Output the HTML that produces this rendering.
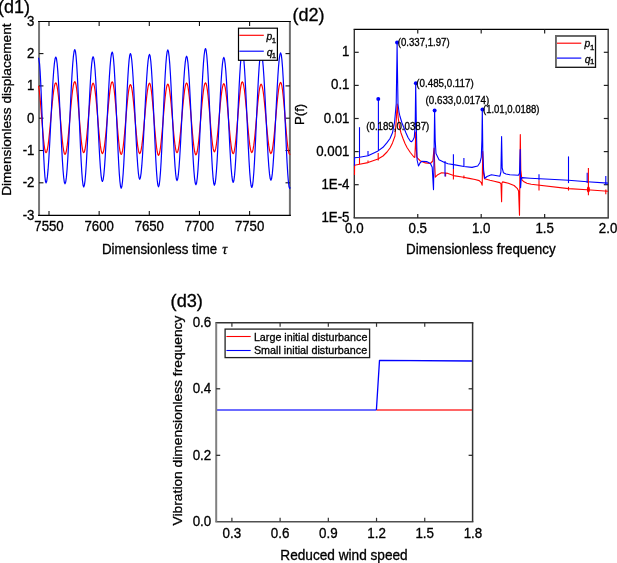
<!DOCTYPE html>
<html><head><meta charset="utf-8"><style>
html,body{margin:0;padding:0;background:#fff;}
body{width:617px;height:563px;overflow:hidden;}
svg{display:block;will-change:transform;}
text{font-family:"Liberation Sans", sans-serif;stroke:#000;stroke-width:0.3px;}
</style></head><body>
<svg width="617" height="563" viewBox="0 0 617 563">
<rect width="617" height="563" fill="#fff"/>
<g fill="none">
<line x1="39.05" y1="21.5" x2="39.05" y2="215.35" stroke="#777" stroke-width="2"/>
<line x1="289.9" y1="21.5" x2="289.9" y2="215.35" stroke="#707070" stroke-width="2"/>
<line x1="38.05" y1="21.5" x2="290.9" y2="21.5" stroke="#000" stroke-width="1.2"/>
<line x1="38.05" y1="215.35" x2="290.9" y2="215.35" stroke="#000" stroke-width="1.2"/>
<line x1="49" y1="215.35" x2="49" y2="210.95" stroke="#111" stroke-width="1.1"/>
<line x1="49" y1="21.5" x2="49" y2="25.9" stroke="#111" stroke-width="1.1"/>
<line x1="99.15" y1="215.35" x2="99.15" y2="210.95" stroke="#111" stroke-width="1.1"/>
<line x1="99.15" y1="21.5" x2="99.15" y2="25.9" stroke="#111" stroke-width="1.1"/>
<line x1="149.3" y1="215.35" x2="149.3" y2="210.95" stroke="#111" stroke-width="1.1"/>
<line x1="149.3" y1="21.5" x2="149.3" y2="25.9" stroke="#111" stroke-width="1.1"/>
<line x1="199.45" y1="215.35" x2="199.45" y2="210.95" stroke="#111" stroke-width="1.1"/>
<line x1="199.45" y1="21.5" x2="199.45" y2="25.9" stroke="#111" stroke-width="1.1"/>
<line x1="249.6" y1="215.35" x2="249.6" y2="210.95" stroke="#111" stroke-width="1.1"/>
<line x1="249.6" y1="21.5" x2="249.6" y2="25.9" stroke="#111" stroke-width="1.1"/>
<line x1="39.05" y1="182.8" x2="43.45" y2="182.8" stroke="#111" stroke-width="1.1"/>
<line x1="289.9" y1="182.8" x2="285.5" y2="182.8" stroke="#111" stroke-width="1.1"/>
<line x1="39.05" y1="150.5" x2="43.45" y2="150.5" stroke="#111" stroke-width="1.1"/>
<line x1="289.9" y1="150.5" x2="285.5" y2="150.5" stroke="#111" stroke-width="1.1"/>
<line x1="39.05" y1="118.2" x2="43.45" y2="118.2" stroke="#111" stroke-width="1.1"/>
<line x1="289.9" y1="118.2" x2="285.5" y2="118.2" stroke="#111" stroke-width="1.1"/>
<line x1="39.05" y1="85.9" x2="43.45" y2="85.9" stroke="#111" stroke-width="1.1"/>
<line x1="289.9" y1="85.9" x2="285.5" y2="85.9" stroke="#111" stroke-width="1.1"/>
<line x1="39.05" y1="53.6" x2="43.45" y2="53.6" stroke="#111" stroke-width="1.1"/>
<line x1="289.9" y1="53.6" x2="285.5" y2="53.6" stroke="#111" stroke-width="1.1"/>
</g>
<g fill="none" stroke-linejoin="round">
<polyline points="38.55,85.74 39.24,90.25 39.86,95.8 40.47,102.44 41.09,109.85 41.7,117.65 42.31,125.45 42.93,132.86 43.54,139.5 44.16,145.05 44.77,149.23 45.39,151.82 46,152.7 46.7,151.82 47.4,149.24 48.1,145.08 48.8,139.54 49.5,132.91 50.2,125.53 50.9,117.75 51.6,109.97 52.3,102.59 53,95.96 53.7,90.42 54.4,86.26 55.1,83.68 55.8,82.8 56.46,83.7 57.11,86.35 57.77,90.61 58.43,96.28 59.09,103.07 59.74,110.63 60.4,118.6 61.06,126.57 61.71,134.13 62.37,140.92 63.03,146.59 63.69,150.85 64.34,153.5 65,154.4 65.7,153.49 66.4,150.8 67.1,146.46 67.8,140.7 68.5,133.79 69.2,126.1 69.9,118 70.6,109.9 71.3,102.21 72,95.3 72.7,89.54 73.4,85.2 74.1,82.51 74.8,81.6 75.44,82.49 76.07,85.12 76.71,89.36 77.34,94.98 77.98,101.73 78.61,109.24 79.25,117.15 79.89,125.06 80.52,132.57 81.16,139.32 81.79,144.94 82.43,149.18 83.06,151.81 83.7,152.7 84.37,151.83 85.04,149.26 85.71,145.12 86.39,139.62 87.06,133.03 87.73,125.68 88.4,117.95 89.07,110.22 89.74,102.87 90.41,96.28 91.09,90.78 91.76,86.64 92.43,84.07 93.1,83.2 93.76,84.08 94.43,86.69 95.09,90.88 95.76,96.45 96.42,103.13 97.09,110.57 97.75,118.4 98.41,126.23 99.08,133.67 99.74,140.35 100.41,145.92 101.07,150.11 101.74,152.72 102.4,153.6 103.1,152.7 103.8,150.04 104.5,145.77 105.2,140.08 105.9,133.28 106.6,125.69 107.3,117.7 108,109.71 108.7,102.12 109.4,95.32 110.1,89.63 110.8,85.36 111.5,82.7 112.2,81.8 112.84,82.71 113.49,85.39 114.13,89.72 114.77,95.47 115.41,102.35 116.06,110.02 116.7,118.1 117.34,126.18 117.99,133.85 118.63,140.73 119.27,146.48 119.91,150.81 120.56,153.49 121.2,154.4 121.86,153.52 122.51,150.94 123.17,146.79 123.83,141.26 124.49,134.64 125.14,127.27 125.8,119.5 126.46,111.73 127.11,104.36 127.77,97.74 128.43,92.21 129.09,88.06 129.74,85.48 130.4,84.6 131.06,85.46 131.73,88.02 132.39,92.13 133.06,97.59 133.72,104.13 134.39,111.42 135.05,119.1 135.71,126.78 136.38,134.07 137.04,140.61 137.71,146.07 138.37,150.18 139.04,152.74 139.7,153.6 140.4,152.72 141.1,150.11 141.8,145.92 142.5,140.35 143.2,133.67 143.9,126.23 144.6,118.4 145.3,110.57 146,103.13 146.7,96.45 147.4,90.88 148.1,86.69 148.8,84.08 149.5,83.2 150.14,84.1 150.79,86.77 151.43,91.06 152.07,96.77 152.71,103.61 153.36,111.23 154,119.25 154.64,127.27 155.29,134.89 155.93,141.73 156.57,147.44 157.21,151.73 157.86,154.4 158.5,155.3 159.16,154.41 159.83,151.77 160.49,147.53 161.16,141.9 161.82,135.15 162.49,127.62 163.15,119.7 163.81,111.78 164.48,104.25 165.14,97.5 165.81,91.87 166.47,87.63 167.14,84.99 167.8,84.1 168.46,84.96 169.11,87.5 169.77,91.58 170.43,97.01 171.09,103.52 171.74,110.77 172.4,118.4 173.06,126.03 173.71,133.28 174.37,139.79 175.03,145.22 175.69,149.3 176.34,151.84 177,152.7 177.69,151.83 178.37,149.25 179.06,145.1 179.74,139.58 180.43,132.97 181.11,125.6 181.8,117.85 182.49,110.1 183.17,102.73 183.86,96.12 184.54,90.6 185.23,86.45 185.91,83.87 186.6,83 187.26,83.9 187.93,86.56 188.59,90.83 189.26,96.52 189.92,103.32 190.59,110.91 191.25,118.9 191.91,126.89 192.58,134.48 193.24,141.28 193.91,146.97 194.57,151.24 195.24,153.9 195.9,154.8 196.59,153.9 197.27,151.23 197.96,146.95 198.64,141.25 199.33,134.42 200.01,126.81 200.7,118.8 201.39,110.79 202.07,103.18 202.76,96.35 203.44,90.65 204.13,86.37 204.81,83.7 205.5,82.8 206.14,83.66 206.77,86.22 207.41,90.33 208.04,95.79 208.68,102.33 209.31,109.62 209.95,117.3 210.59,124.98 211.22,132.27 211.86,138.81 212.49,144.27 213.13,148.38 213.76,150.94 214.4,151.8 215.07,150.95 215.74,148.43 216.41,144.37 217.09,138.98 217.76,132.52 218.43,125.33 219.1,117.75 219.77,110.17 220.44,102.98 221.11,96.52 221.79,91.13 222.46,87.07 223.13,84.55 223.8,83.7 224.47,84.58 225.14,87.17 225.81,91.34 226.49,96.88 227.16,103.51 227.83,110.91 228.5,118.7 229.17,126.49 229.84,133.89 230.51,140.52 231.19,146.06 231.86,150.23 232.53,152.82 233.2,153.7 233.85,152.8 234.5,150.14 235.15,145.86 235.8,140.16 236.45,133.35 237.1,125.75 237.75,117.75 238.4,109.75 239.05,102.15 239.7,95.34 240.35,89.64 241,85.36 241.65,82.7 242.3,81.8 242.98,82.69 243.66,85.31 244.34,89.52 245.01,95.13 245.69,101.84 246.37,109.32 247.05,117.2 247.73,125.08 248.41,132.56 249.09,139.27 249.76,144.88 250.44,149.09 251.12,151.71 251.8,152.6 252.46,151.74 253.13,149.21 253.79,145.14 254.46,139.72 255.12,133.24 255.79,126.01 256.45,118.4 257.11,110.79 257.78,103.56 258.44,97.08 259.11,91.66 259.77,87.59 260.44,85.06 261.1,84.2 261.8,85.07 262.5,87.63 263.2,91.76 263.9,97.25 264.6,103.82 265.3,111.14 266,118.85 266.7,126.56 267.4,133.88 268.1,140.45 268.8,145.94 269.5,150.07 270.2,152.63 270.9,153.5 271.59,152.61 272.29,149.98 272.98,145.74 273.67,140.12 274.36,133.37 275.06,125.86 275.75,117.95 276.44,110.04 277.14,102.53 277.83,95.78 278.52,90.16 279.21,85.92 279.91,83.29 280.6,82.4 281.25,83.3 281.9,85.97 282.55,90.25 283.2,95.95 283.85,102.78 284.5,110.39 285.15,118.4 285.8,126.41 286.45,134.02 287.1,140.85 287.75,146.55 288.4,150.83 289.05,153.5 289.7,154.4 290.2,153.74" stroke="#ff0000" stroke-width="1.2"/>
<polyline points="38.55,57.75 39.57,63.8 40.11,71.27 40.64,81.19 41.18,93.07 41.71,106.31 42.25,120.25 42.79,134.19 43.32,147.43 43.86,159.31 44.39,169.23 44.93,176.7 45.46,181.33 46,182.9 46.7,181.32 47.4,176.67 48.1,169.17 48.8,159.2 49.5,147.26 50.2,133.96 50.9,119.95 51.6,105.94 52.3,92.64 53,80.7 53.7,70.73 54.4,63.23 55.1,58.58 55.8,57 56.46,58.59 57.11,63.28 57.77,70.83 58.43,80.87 59.09,92.89 59.74,106.29 60.4,120.4 61.06,134.51 61.71,147.91 62.37,159.93 63.03,169.97 63.69,177.52 64.34,182.21 65,183.8 65.7,182.12 66.4,177.16 67.1,169.16 67.8,158.54 68.5,145.81 69.2,131.63 69.9,116.7 70.6,101.77 71.3,87.59 72,74.86 72.7,64.24 73.4,56.24 74.1,51.28 74.8,49.6 75.44,51.32 76.07,56.4 76.71,64.59 77.34,75.47 77.98,88.49 78.61,103.01 79.25,118.3 79.89,133.59 80.52,148.11 81.16,161.13 81.79,172.01 82.43,180.2 83.06,185.28 83.7,187 84.37,185.37 85.04,180.55 85.71,172.79 86.39,162.47 87.06,150.12 87.73,136.35 88.4,121.85 89.07,107.35 89.74,93.58 90.41,81.23 91.09,70.91 91.76,63.15 92.43,58.33 93.1,56.7 93.76,58.26 94.43,62.88 95.09,70.31 95.76,80.19 96.42,92.03 97.09,105.21 97.75,119.1 98.41,132.99 99.08,146.17 99.74,158.01 100.41,167.89 101.07,175.32 101.74,179.94 102.4,181.5 103.1,179.88 103.8,175.09 104.5,167.37 105.2,157.12 105.9,144.84 106.6,131.16 107.3,116.75 108,102.34 108.7,88.66 109.4,76.38 110.1,66.13 110.8,58.41 111.5,53.62 112.2,52 112.84,53.71 113.49,58.74 114.13,66.86 114.77,77.64 115.41,90.55 116.06,104.95 116.7,120.1 117.34,135.25 117.99,149.65 118.63,162.56 119.27,173.34 119.91,181.46 120.56,186.49 121.2,188.2 121.86,186.51 122.51,181.53 123.17,173.51 123.83,162.84 124.49,150.07 125.14,135.84 125.8,120.85 126.46,105.86 127.11,91.63 127.77,78.86 128.43,68.19 129.09,60.17 129.74,55.19 130.4,53.5 131.06,55.08 131.73,59.73 132.39,67.22 133.06,77.18 133.72,89.11 134.39,102.4 135.05,116.4 135.71,130.4 136.38,143.69 137.04,155.62 137.71,165.58 138.37,173.07 139.04,177.72 139.7,179.3 140.4,177.73 141.1,173.12 141.8,165.68 142.5,155.79 143.2,143.95 143.9,130.75 144.6,116.85 145.3,102.95 146,89.75 146.7,77.91 147.4,68.02 148.1,60.58 148.8,55.97 149.5,54.4 150.14,56.06 150.79,60.96 151.43,68.84 152.07,79.32 152.71,91.88 153.36,105.87 154,120.6 154.64,135.33 155.29,149.32 155.93,161.88 156.57,172.36 157.21,180.24 157.86,185.14 158.5,186.8 159.16,185.08 159.83,180.02 160.49,171.87 161.16,161.03 161.82,148.05 162.49,133.58 163.15,118.35 163.81,103.12 164.48,88.65 165.14,75.67 165.81,64.83 166.47,56.68 167.14,51.62 167.8,49.9 168.46,51.54 169.11,56.37 169.77,64.16 170.43,74.5 171.09,86.9 171.74,100.71 172.4,115.25 173.06,129.79 173.71,143.6 174.37,156 175.03,166.34 175.69,174.13 176.34,178.96 177,180.6 177.69,179.04 178.37,174.44 179.06,167.03 179.74,157.18 180.43,145.39 181.11,132.24 181.8,118.4 182.49,104.56 183.17,91.41 183.86,79.62 184.54,69.77 185.23,62.36 185.91,57.76 186.6,56.2 187.26,57.81 187.93,62.56 188.59,70.22 189.26,80.39 189.92,92.57 190.59,106.15 191.25,120.45 191.91,134.75 192.58,148.33 193.24,160.51 193.91,170.68 194.57,178.34 195.24,183.09 195.9,184.7 196.59,182.99 197.27,177.96 197.96,169.84 198.64,159.06 199.33,146.15 200.01,131.75 200.7,116.6 201.39,101.45 202.07,87.05 202.76,74.14 203.44,63.36 204.13,55.24 204.81,50.21 205.5,48.5 206.14,50.21 206.77,55.27 207.41,63.41 208.04,74.23 208.68,87.19 209.31,101.64 209.95,116.85 210.59,132.06 211.22,146.51 211.86,159.47 212.49,170.29 213.13,178.43 213.76,183.49 214.4,185.2 215.07,183.6 215.74,178.87 216.41,171.26 217.09,161.14 217.76,149.03 218.43,135.52 219.1,121.3 219.77,107.08 220.44,93.57 221.11,81.46 221.79,71.34 222.46,63.73 223.13,59 223.8,57.4 224.47,58.97 225.14,63.59 225.81,71.04 226.49,80.93 227.16,92.78 227.83,105.99 228.5,119.9 229.17,133.81 229.84,147.02 230.51,158.87 231.19,168.76 231.86,176.21 232.53,180.83 233.2,182.4 233.85,180.75 234.5,175.9 235.15,168.08 235.8,157.68 236.45,145.23 237.1,131.36 237.75,116.75 238.4,102.14 239.05,88.27 239.7,75.82 240.35,65.42 241,57.6 241.65,52.75 242.3,51.1 242.98,52.81 243.66,57.85 244.34,65.98 245.01,76.78 245.69,89.71 246.37,104.12 247.05,119.3 247.73,134.48 248.41,148.89 249.09,161.82 249.76,172.62 250.44,180.75 251.12,185.79 251.8,187.5 252.46,185.81 253.13,180.82 253.79,172.78 254.46,162.1 255.12,149.32 255.79,135.06 256.45,120.05 257.11,105.04 257.78,90.78 258.44,78 259.11,67.32 259.77,59.28 260.44,54.29 261.1,52.6 261.8,54.2 262.5,58.92 263.2,66.52 263.9,76.62 264.6,88.72 265.3,102.2 266,116.4 266.7,130.6 267.4,144.08 268.1,156.18 268.8,166.28 269.5,173.88 270.2,178.6 270.9,180.2 271.59,178.6 272.29,173.9 272.98,166.31 273.67,156.24 274.36,144.17 275.06,130.71 275.75,116.55 276.44,102.39 277.14,88.93 277.83,76.86 278.52,66.79 279.21,59.2 279.91,54.5 280.6,52.9 281.25,54.6 281.9,59.61 282.55,67.69 283.2,78.43 283.85,91.28 284.5,105.61 285.15,120.7 285.8,135.79 286.45,150.12 287.1,162.97 287.75,173.71 288.4,181.79 289.05,186.8 289.7,188.5 290.2,187.27" stroke="#0000ff" stroke-width="1.2"/>
</g>
<rect x="238.5" y="28.2" width="38.9" height="32.1" fill="#fff" stroke="#000" stroke-width="1.2"/>
<line x1="239.3" y1="35.3" x2="263.8" y2="35.3" stroke="#ff0000" stroke-width="1.15"/>
<line x1="239.3" y1="51.2" x2="263.8" y2="51.2" stroke="#0000ff" stroke-width="1.15"/>
<g font-family='"Liberation Sans", sans-serif' fill="#000">
<text x="266.6" y="40" font-size="10.3" font-style="italic">p</text><text x="271.8" y="42.8" font-size="7.8">1</text>
<text x="266.8" y="55.5" font-size="10.3" font-style="italic">q</text><text x="271.8" y="58" font-size="7.8">1</text>
<text transform="translate(49 230.6) scale(1 1.08)" font-size="13.2" text-anchor="middle">7550</text>
<text transform="translate(99.15 230.6) scale(1 1.08)" font-size="13.2" text-anchor="middle">7600</text>
<text transform="translate(149.3 230.6) scale(1 1.08)" font-size="13.2" text-anchor="middle">7650</text>
<text transform="translate(199.45 230.6) scale(1 1.08)" font-size="13.2" text-anchor="middle">7700</text>
<text transform="translate(249.6 230.6) scale(1 1.08)" font-size="13.2" text-anchor="middle">7750</text>
<text transform="translate(34.4 219.5) scale(1 1.08)" font-size="13.2" text-anchor="end">-3</text>
<text transform="translate(34.4 187.2) scale(1 1.08)" font-size="13.2" text-anchor="end">-2</text>
<text transform="translate(34.4 154.9) scale(1 1.08)" font-size="13.2" text-anchor="end">-1</text>
<text transform="translate(34.4 122.6) scale(1 1.08)" font-size="13.2" text-anchor="end">0</text>
<text transform="translate(34.4 90.3) scale(1 1.08)" font-size="13.2" text-anchor="end">1</text>
<text transform="translate(34.4 58) scale(1 1.08)" font-size="13.2" text-anchor="end">2</text>
<text transform="translate(34.4 25.7) scale(1 1.08)" font-size="13.2" text-anchor="end">3</text>
<text transform="translate(102 253.9) scale(1 1.1)" font-size="13.3">Dimensionless time</text>
<text x="222.3" y="253.8" font-size="14" style="font-family:'Liberation Serif', serif" font-style="italic">&#964;</text>
<text transform="translate(10.7,195.8) rotate(-90)" font-size="13.6" textLength="172.3" lengthAdjust="spacingAndGlyphs" x="0" y="0">Dimensionless displacement</text>
<text x="-1.9" y="13.1" font-size="17.5" textLength="32" lengthAdjust="spacingAndGlyphs">(d1)</text>
</g>
<g fill="none">
<line x1="353.6" y1="29.4" x2="608.9" y2="29.4" stroke="#000" stroke-width="1.4"/>
<line x1="353.6" y1="217.9" x2="608.9" y2="217.9" stroke="#555" stroke-width="1.6"/>
<line x1="354.3" y1="29.4" x2="354.3" y2="217.9" stroke="#333" stroke-width="1.4"/>
<line x1="608.2" y1="29.4" x2="608.2" y2="217.9" stroke="#444" stroke-width="1.5"/>
<line x1="417.75" y1="217.9" x2="417.75" y2="213.9" stroke="#222" stroke-width="1.2"/>
<line x1="417.75" y1="29.4" x2="417.75" y2="33.4" stroke="#222" stroke-width="1.2"/>
<line x1="481.2" y1="217.9" x2="481.2" y2="213.9" stroke="#222" stroke-width="1.2"/>
<line x1="481.2" y1="29.4" x2="481.2" y2="33.4" stroke="#222" stroke-width="1.2"/>
<line x1="544.65" y1="217.9" x2="544.65" y2="213.9" stroke="#222" stroke-width="1.2"/>
<line x1="544.65" y1="29.4" x2="544.65" y2="33.4" stroke="#222" stroke-width="1.2"/>
<line x1="354.3" y1="184.7" x2="358.7" y2="184.7" stroke="#222" stroke-width="1.2"/>
<line x1="608.2" y1="184.7" x2="603.8" y2="184.7" stroke="#222" stroke-width="1.2"/>
<line x1="354.3" y1="151.6" x2="358.7" y2="151.6" stroke="#222" stroke-width="1.2"/>
<line x1="608.2" y1="151.6" x2="603.8" y2="151.6" stroke="#222" stroke-width="1.2"/>
<line x1="354.3" y1="118.5" x2="358.7" y2="118.5" stroke="#222" stroke-width="1.2"/>
<line x1="608.2" y1="118.5" x2="603.8" y2="118.5" stroke="#222" stroke-width="1.2"/>
<line x1="354.3" y1="85.4" x2="358.7" y2="85.4" stroke="#222" stroke-width="1.2"/>
<line x1="608.2" y1="85.4" x2="603.8" y2="85.4" stroke="#222" stroke-width="1.2"/>
<line x1="354.3" y1="52.3" x2="358.7" y2="52.3" stroke="#222" stroke-width="1.2"/>
<line x1="608.2" y1="52.3" x2="603.8" y2="52.3" stroke="#222" stroke-width="1.2"/>
</g>
<g fill="none" stroke-linejoin="round">
<polyline points="354.5,174.9 354.6,165.3 359.5,164.2 368,162.6 378,158.9 383,156 387,152 390,148 392.5,142.9 395,136 396.3,120 397.2,104 398.2,118 399.5,127 401,133 403,138.5 405,143.5 407,147.5 410.3,152.5 413.9,157 414.8,157.4 415.4,145 415.7,132 416.1,145 416.8,157 417.3,157.9 420.4,161 425.4,162.9 430.4,163.5 432.8,161 434.1,148 434.7,165 435.3,177.2 437.8,174.7 441.5,172.8 448,173.4 455,175.9 462,177 469.2,178.4 475,179.5 479.2,180.6 481.3,182.7 482.2,185.2 482.7,151.4 483.3,172 484.5,178.8 490,180.3 494.2,181.2 499.9,182.6 501,184 501.6,201.8 501.9,183 502.7,181.9 508.4,183.3 514.1,185.5 517.2,188.3 518.6,191.1 519.5,215.3 520.3,134.6 520.8,170 521.9,179.8 524,181.8 526.9,183.3 531.2,184.2 568.5,188.6 587.2,189.8 608,191.3" stroke="#ff0000" stroke-width="1.1"/>
<line x1="359.5" y1="157.8" x2="359.5" y2="164.2" stroke="#ff0000" stroke-width="1.1"/>
<line x1="368" y1="160.5" x2="368" y2="162.6" stroke="#ff0000" stroke-width="1.1"/>
<line x1="378.2" y1="153" x2="378.2" y2="160.5" stroke="#ff0000" stroke-width="1.1"/>
<line x1="445.6" y1="172.8" x2="445.6" y2="176.6" stroke="#ff0000" stroke-width="1.1"/>
<line x1="453.4" y1="169.1" x2="453.4" y2="179.4" stroke="#ff0000" stroke-width="1.1"/>
<line x1="463.9" y1="175.5" x2="463.9" y2="178.5" stroke="#ff0000" stroke-width="1.1"/>
<line x1="539" y1="180.3" x2="539" y2="190.6" stroke="#ff0000" stroke-width="1.1"/>
<line x1="568.5" y1="186.8" x2="568.5" y2="190.6" stroke="#ff0000" stroke-width="1.1"/>
<line x1="605.8" y1="189.6" x2="605.8" y2="194.3" stroke="#ff0000" stroke-width="1.1"/>
<polyline points="354.5,165.8 354.6,157.8 359.5,157.3 368,155.7 378.1,150.9 383,147.3 387.2,142.4 390,138.5 392.5,132.8 394.6,122.1 396.2,104 396.9,60 397.1,42.8 397.3,60 398,104 399,112 400,116.5 402,123 404,128 406,133 408,137.5 410.4,141.3 411.5,141.8 413,140 414.3,137.2 415.2,125 415.7,83.3 416.4,130 417.1,160 418.5,166 420,163 421.7,161.3 426.6,161.6 430.4,163.5 432.2,167.2 433.5,189.6 434,160 434.6,110.6 435.2,140 436,153.6 439,159.8 444,162.3 448,163.8 455,164.9 463.9,166.5 472,167.4 477.7,166 479.9,162.8 481.3,157.1 481.9,140 482.3,109.7 482.8,150 483.6,170 484.8,178.4 487,176.5 491.4,174.8 499.9,176.2 500.9,172 501.6,136.5 502.2,168 503.4,172.7 506,174 509.8,174.8 518.4,175.2 519.5,173.4 520.2,149.5 520.6,187.8 521.2,179 521.9,177.6 530,178.2 550,179.3 568.5,180.3 587.2,181.8 608,183.1" stroke="#0000ff" stroke-width="1.1"/>
<line x1="359.5" y1="127.2" x2="359.5" y2="157.3" stroke="#0000ff" stroke-width="1.1"/>
<line x1="368" y1="151.1" x2="368" y2="155.7" stroke="#0000ff" stroke-width="1.1"/>
<line x1="378.4" y1="98.7" x2="378.4" y2="151" stroke="#0000ff" stroke-width="1.1"/>
<line x1="445" y1="161" x2="445" y2="176.6" stroke="#0000ff" stroke-width="1.1"/>
<line x1="453.4" y1="154.2" x2="453.4" y2="169.1" stroke="#0000ff" stroke-width="1.1"/>
<line x1="463.9" y1="157.9" x2="463.9" y2="165.9" stroke="#0000ff" stroke-width="1.1"/>
<line x1="539" y1="174.3" x2="539" y2="180.3" stroke="#0000ff" stroke-width="1.1"/>
<line x1="568.5" y1="156.4" x2="568.5" y2="183.1" stroke="#0000ff" stroke-width="1.1"/>
<line x1="587.2" y1="172.8" x2="587.2" y2="183.1" stroke="#0000ff" stroke-width="1.1"/>
<line x1="605.8" y1="176" x2="605.8" y2="185" stroke="#0000ff" stroke-width="1.1"/>
<line x1="588.4" y1="168" x2="588.4" y2="195.2" stroke="#ff0000" stroke-width="1.1"/>
<ellipse cx="588.4" cy="189.6" rx="1.5" ry="3" fill="#ff0000"/>
</g>
<circle cx="378.28" cy="99.05" r="2" fill="#0000ff"/>
<circle cx="397.07" cy="42.55" r="2" fill="#0000ff"/>
<circle cx="415.85" cy="83.14" r="2" fill="#0000ff"/>
<circle cx="434.63" cy="110.54" r="2" fill="#0000ff"/>
<circle cx="482.47" cy="109.43" r="2" fill="#0000ff"/>
<rect x="555.8" y="35.9" width="39.7" height="31.4" fill="#fff" stroke="#111" stroke-width="1.3"/>
<path d="M555.8,67.3 V35.9 H595.5" fill="none" stroke="#666" stroke-width="1.6"/>
<line x1="557" y1="43.2" x2="581.3" y2="43.2" stroke="#ff0000" stroke-width="1.15"/>
<line x1="557" y1="58.1" x2="581.3" y2="58.1" stroke="#0000ff" stroke-width="1.15"/>
<g font-family='"Liberation Sans", sans-serif' fill="#000">
<text x="584.6" y="47.4" font-size="10.3" font-style="italic">p</text><text x="590.0" y="49.6" font-size="7.8">1</text>
<text x="584.8" y="62.7" font-size="10.3" font-style="italic">q</text><text x="590.0" y="64.4" font-size="7.8">1</text>
<text transform="translate(354.3 232.8) scale(1 1.1)" font-size="13.3" text-anchor="middle">0.0</text>
<text transform="translate(417.75 232.8) scale(1 1.1)" font-size="13.3" text-anchor="middle">0.5</text>
<text transform="translate(481.2 232.8) scale(1 1.1)" font-size="13.3" text-anchor="middle">1.0</text>
<text transform="translate(544.65 232.8) scale(1 1.1)" font-size="13.3" text-anchor="middle">1.5</text>
<text transform="translate(608.1 232.8) scale(1 1.1)" font-size="13.3" text-anchor="middle">2.0</text>
<text transform="translate(349.5 56.3) scale(1 1.1)" font-size="13.3" text-anchor="end">1</text>
<text transform="translate(349.5 89.4) scale(1 1.1)" font-size="13.3" text-anchor="end">0.1</text>
<text transform="translate(349.5 122.5) scale(1 1.1)" font-size="13.3" text-anchor="end">0.01</text>
<text transform="translate(349.5 155.6) scale(1 1.1)" font-size="13.3" text-anchor="end">0.001</text>
<text transform="translate(349.5 188.7) scale(1 1.1)" font-size="13.3" text-anchor="end">1E-4</text>
<text transform="translate(349.5 221.8) scale(1 1.1)" font-size="13.3" text-anchor="end">1E-5</text>
<text transform="translate(406 254.1) scale(1 1.08)" font-size="13.4" textLength="149.6" lengthAdjust="spacingAndGlyphs">Dimensionless frequency</text>
<text transform="translate(304.2,124.9) rotate(-90)" font-size="13.4" textLength="21" lengthAdjust="spacingAndGlyphs" x="0" y="0">P(f)</text>
<text x="292.5" y="21" font-size="17.5" textLength="32.1" lengthAdjust="spacingAndGlyphs">(d2)</text>
<text x="397.8" y="46.3" font-size="10" textLength="51.8" lengthAdjust="spacingAndGlyphs">(0.337,1.97)</text>
<text x="416.3" y="86.9" font-size="10" textLength="57.4" lengthAdjust="spacingAndGlyphs">(0.485,0.117)</text>
<text x="425.6" y="104" font-size="10" textLength="63.6" lengthAdjust="spacingAndGlyphs">(0.633,0.0174)</text>
<text x="483" y="113.3" font-size="10" textLength="56.5" lengthAdjust="spacingAndGlyphs">(1.01,0.0188)</text>
<text x="366.3" y="129.5" font-size="10" textLength="63" lengthAdjust="spacingAndGlyphs">(0.189,0.0387)</text>
</g>
<polyline points="216.5,410 376.4,410" fill="none" stroke="#6c6cff" stroke-width="1.8"/>
<polyline points="376.4,410 472,410" fill="none" stroke="#ff3333" stroke-width="1.7"/>
<polyline points="376.4,410 379.5,360.4 472,361" fill="none" stroke="#0000ff" stroke-width="1.3" stroke-linejoin="round"/>
<g fill="none">
<line x1="215.4" y1="322.8" x2="473.4" y2="322.8" stroke="#333" stroke-width="1.5"/>
<line x1="215.4" y1="521.8" x2="473.4" y2="521.8" stroke="#505050" stroke-width="1.6"/>
<line x1="216.2" y1="322.8" x2="216.2" y2="521.8" stroke="#808080" stroke-width="2"/>
<line x1="472.6" y1="322.8" x2="472.6" y2="521.8" stroke="#333" stroke-width="1.5"/>
<line x1="231.9" y1="521.8" x2="231.9" y2="517.8" stroke="#333" stroke-width="1.2"/>
<line x1="231.9" y1="322.8" x2="231.9" y2="326.8" stroke="#333" stroke-width="1.2"/>
<line x1="280.11" y1="521.8" x2="280.11" y2="517.8" stroke="#333" stroke-width="1.2"/>
<line x1="280.11" y1="322.8" x2="280.11" y2="326.8" stroke="#333" stroke-width="1.2"/>
<line x1="328.32" y1="521.8" x2="328.32" y2="517.8" stroke="#333" stroke-width="1.2"/>
<line x1="328.32" y1="322.8" x2="328.32" y2="326.8" stroke="#333" stroke-width="1.2"/>
<line x1="376.53" y1="521.8" x2="376.53" y2="517.8" stroke="#333" stroke-width="1.2"/>
<line x1="376.53" y1="322.8" x2="376.53" y2="326.8" stroke="#333" stroke-width="1.2"/>
<line x1="424.74" y1="521.8" x2="424.74" y2="517.8" stroke="#333" stroke-width="1.2"/>
<line x1="424.74" y1="322.8" x2="424.74" y2="326.8" stroke="#333" stroke-width="1.2"/>
<line x1="216.2" y1="455.3" x2="220.2" y2="455.3" stroke="#222" stroke-width="1.2"/>
<line x1="472.6" y1="455.3" x2="468.6" y2="455.3" stroke="#222" stroke-width="1.2"/>
<line x1="216.2" y1="388.8" x2="220.2" y2="388.8" stroke="#222" stroke-width="1.2"/>
<line x1="472.6" y1="388.8" x2="468.6" y2="388.8" stroke="#222" stroke-width="1.2"/>
</g>
<rect x="225.1" y="329.1" width="144.5" height="28.5" fill="#fff" stroke="#222" stroke-width="1.3"/>
<line x1="226.4" y1="336.5" x2="250.7" y2="336.5" stroke="#ff0000" stroke-width="1.1"/>
<line x1="226.4" y1="350.5" x2="250.7" y2="350.5" stroke="#0000ff" stroke-width="1.1"/>
<g font-family='"Liberation Sans", sans-serif' fill="#000">
<text x="253.9" y="340.7" font-size="11" textLength="113.5" lengthAdjust="spacingAndGlyphs">Large initial disturbance</text>
<text x="253.9" y="354" font-size="11" textLength="113.3" lengthAdjust="spacingAndGlyphs">Small initial disturbance</text>
<text transform="translate(231.9 537.5) scale(1 1.12)" font-size="13.4" text-anchor="middle">0.3</text>
<text transform="translate(280.11 537.5) scale(1 1.12)" font-size="13.4" text-anchor="middle">0.6</text>
<text transform="translate(328.32 537.5) scale(1 1.12)" font-size="13.4" text-anchor="middle">0.9</text>
<text transform="translate(376.53 537.5) scale(1 1.12)" font-size="13.4" text-anchor="middle">1.2</text>
<text transform="translate(424.74 537.5) scale(1 1.12)" font-size="13.4" text-anchor="middle">1.5</text>
<text transform="translate(472.95 537.5) scale(1 1.12)" font-size="13.4" text-anchor="middle">1.8</text>
<text transform="translate(211.3 526.2) scale(1 1.12)" font-size="13.4" text-anchor="end">0.0</text>
<text transform="translate(211.3 459.7) scale(1 1.12)" font-size="13.4" text-anchor="end">0.2</text>
<text transform="translate(211.3 393.2) scale(1 1.12)" font-size="13.4" text-anchor="end">0.4</text>
<text transform="translate(211.3 326.7) scale(1 1.12)" font-size="13.4" text-anchor="end">0.6</text>
<text transform="translate(280.3 559.8) scale(1 1.08)" font-size="13.6" textLength="127.4" lengthAdjust="spacingAndGlyphs">Reduced wind speed</text>
<text transform="translate(182.4,525.4) rotate(-90)" font-size="13.7" textLength="209.8" lengthAdjust="spacingAndGlyphs" x="0" y="0">Vibration dimensionless frequency</text>
<text x="170.6" y="306.7" font-size="17.5" textLength="32.3" lengthAdjust="spacingAndGlyphs">(d3)</text>
</g>
</svg>
</body></html>
